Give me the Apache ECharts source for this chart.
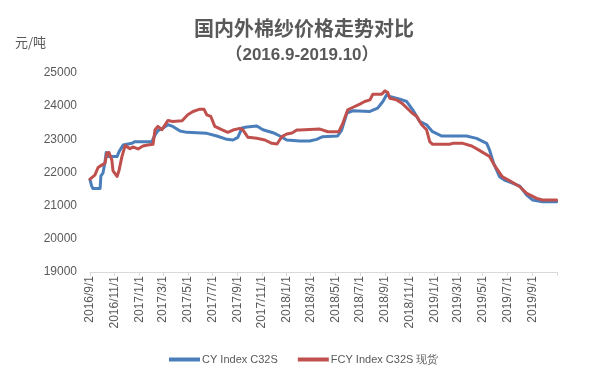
<!DOCTYPE html>
<html>
<head>
<meta charset="utf-8">
<script src="https://cdn.jsdelivr.net/npm/echarts@6/dist/echarts.min.js"></script>
<style>
  html, body { margin: 0; padding: 0; background: #fff; }
  #chart { width: 589px; height: 376px; }
</style>
</head>
<body>
<div id="chart"></div>
<script>
// CY Index C32S
var cyDates = [
  '2016/9/1', '2016/9/5', '2016/9/8', '2016/9/26', '2016/9/28', '2016/10/3', '2016/10/8', '2016/10/11',
  '2016/10/16', '2016/11/7', '2016/11/12', '2016/11/22', '2016/12/14', '2016/12/21', '2017/2/1', '2017/2/9',
  '2017/2/16', '2017/3/1', '2017/3/13', '2017/3/25', '2017/4/12', '2017/4/29', '2017/6/17', '2017/7/12',
  '2017/8/6', '2017/8/21', '2017/9/2', '2017/9/12', '2017/9/24', '2017/10/19', '2017/11/3', '2017/11/28',
  '2017/12/15', '2018/1/1', '2018/2/2', '2018/2/27', '2018/3/16', '2018/3/31', '2018/5/7', '2018/5/17',
  '2018/5/30', '2018/6/13', '2018/7/26', '2018/8/14', '2018/8/27', '2018/9/6', '2018/9/13', '2018/10/8',
  '2018/10/25', '2018/11/9', '2018/11/26', '2018/12/13', '2018/12/28', '2019/1/20', '2019/3/22', '2019/4/16',
  '2019/5/11', '2019/5/18', '2019/5/28', '2019/6/12', '2019/6/24', '2019/7/12', '2019/8/1', '2019/8/18',
  '2019/9/2', '2019/9/26', '2019/10/31'
];
var cyValues = [
  21780, 21600, 21520, 21520, 21900, 21980, 22300, 22600,
  22480, 22480, 22630, 22830, 22880, 22930, 22930, 23130,
  23260, 23340, 23440, 23390, 23250, 23210, 23180, 23100,
  23000, 22980, 23060, 23340, 23370, 23400, 23290, 23200,
  23100, 22980, 22950, 22950, 23000, 23080, 23100, 23280,
  23790, 23860, 23840, 23940, 24140, 24360, 24290, 24210,
  24140, 23890, 23540, 23440, 23230, 23100, 23100, 23030,
  22880, 22680, 22280, 21870, 21770, 21690, 21590, 21320,
  21170, 21120, 21120
];

// FCY Index C32S 现货
var fcyDates = [
  '2016/9/1', '2016/9/13', '2016/9/21', '2016/10/1', '2016/10/8', '2016/10/13', '2016/10/18', '2016/10/25',
  '2016/10/28', '2016/11/7', '2016/11/12', '2016/11/19', '2016/11/27', '2016/12/9', '2016/12/16', '2016/12/29',
  '2017/1/10', '2017/1/22', '2017/2/4', '2017/2/9', '2017/2/16', '2017/2/26', '2017/3/13', '2017/3/25',
  '2017/4/17', '2017/5/1', '2017/5/14', '2017/5/31', '2017/6/10', '2017/6/17', '2017/6/27', '2017/7/7',
  '2017/7/24', '2017/8/8', '2017/8/21', '2017/9/7', '2017/9/14', '2017/9/27', '2017/10/19', '2017/11/8',
  '2017/11/25', '2017/12/8', '2017/12/20', '2018/1/1', '2018/1/14', '2018/1/26', '2018/2/2', '2018/3/24',
  '2018/4/13', '2018/5/10', '2018/5/20', '2018/6/1', '2018/6/13', '2018/7/1', '2018/7/13', '2018/7/26',
  '2018/8/2', '2018/8/24', '2018/9/1', '2018/9/8', '2018/9/13', '2018/9/30', '2018/10/13', '2018/11/6',
  '2018/11/19', '2018/12/1', '2018/12/13', '2018/12/21', '2018/12/28', '2019/2/8', '2019/2/16', '2019/3/13',
  '2019/4/4', '2019/4/24', '2019/5/18', '2019/5/31', '2019/6/19', '2019/7/7', '2019/8/1', '2019/8/18',
  '2019/9/12', '2019/9/26', '2019/10/31'
];
var fcyValues = [
  21800, 21920, 22150, 22230, 22280, 22590, 22600, 22380,
  22050, 21880, 22070, 22480, 22810, 22720, 22770, 22710,
  22800, 22830, 22850, 23290, 23390, 23290, 23570, 23540,
  23560, 23740, 23840, 23910, 23910, 23740, 23690, 23390,
  23290, 23210, 23280, 23330, 23290, 23060, 23030, 22980,
  22880, 22860, 23080, 23160, 23190, 23280, 23280, 23310,
  23230, 23230, 23490, 23890, 23960, 24060, 24140, 24190,
  24360, 24360, 24460, 24410, 24240, 24190, 24090, 23810,
  23690, 23440, 23290, 22930, 22850, 22850, 22880, 22880,
  22800, 22660, 22480, 22200, 21870, 21750, 21570, 21370,
  21220, 21170, 21170
];

var seriesNames = ['CY Index C32S', 'FCY Index C32S 现货'];
var yTicks = [19000, 20000, 21000, 22000, 23000, 24000, 25000];

// 每日一个类目：2016/9/1 ~ 2019/11/1
var days = [];
var t = Date.UTC(2016, 8, 1), tEnd = Date.UTC(2019, 10, 1);
while (t <= tEnd) {
  var d = new Date(t);
  days.push(d.getUTCFullYear() + '/' + (d.getUTCMonth() + 1) + '/' + d.getUTCDate());
  t += 86400000;
}
var dayIndex = {};
days.forEach(function (s, i) { dayIndex[s] = i; });

function pairs(dates, values) {
  return dates.map(function (s, i) { return [dayIndex[s], values[i]]; });
}

// 单月份的1号
function isTick(value) {
  var p = value.split('/');
  return p[2] === '1' && (+p[1]) % 2 === 1;
}

var grey = '#595959';
var myChart = echarts.init(document.getElementById('chart'));
var option = {
  animation: false,
  textStyle: { fontFamily: 'Liberation Sans, Arial, sans-serif' },
  graphic: [
    { type: 'text', style: { text: '国内外棉纱价格走势对比', x: 304, y: 28, textAlign: 'center', textVerticalAlign: 'middle',
      fill: grey, font: 'bold 20px "Noto Sans CJK SC"' } },
    { type: 'text', style: { text: '（2016.9-2019.10）', x: 302, y: 55, textAlign: 'center', textVerticalAlign: 'middle',
      fill: grey, font: 'bold 17px "Liberation Sans", "Noto Sans CJK SC"' } },
    { type: 'text', style: { text: '元/吨', x: 15, y: 42, textAlign: 'left', textVerticalAlign: 'middle',
      fill: grey, font: '13px "Noto Sans CJK SC"' } }
  ],
  legend: {
    left: 164,
    top: 349,
    itemGap: 20,
    itemWidth: 31,
    itemHeight: 4,
    icon: 'rect',
    textStyle: { color: grey, fontSize: 11, padding: [0, 0, 0, -3] },
    data: seriesNames
  },
  grid: { left: 90, right: 32, top: 73, bottom: 104, containLabel: false },
  xAxis: {
    type: 'category',
    data: days,
    boundaryGap: false,
    axisLine: { lineStyle: { color: '#d9d9d9', width: 1 } },
    axisTick: {
      interval: function (i, v) { return isTick(v); },
      length: 4,
      lineStyle: { color: '#d9d9d9' }
    },
    axisLabel: {
      interval: function (i, v) { return isTick(v) && i < days.length - 1; },
      rotate: 90,
      margin: 4,
      color: grey,
      fontSize: 12
    },
    splitLine: { show: false }
  },
  yAxis: {
    type: 'value',
    min: yTicks[0],
    max: yTicks[yTicks.length - 1],
    interval: 1000,
    axisLine: { show: false },
    axisTick: { show: false },
    splitLine: { show: false },
    axisLabel: { color: grey, fontSize: 12, margin: 13, formatter: function (v) { return String(v); } }
  },
  series: [
    {
      name: seriesNames[0],
      type: 'line',
      showSymbol: false,
      symbol: 'none',
      color: '#4A7EBB',
      lineStyle: { width: 3, cap: 'round', join: 'round' },
      data: pairs(cyDates, cyValues)
    },
    {
      name: seriesNames[1],
      type: 'line',
      showSymbol: false,
      symbol: 'none',
      color: '#C0504D',
      lineStyle: { width: 3, cap: 'round', join: 'round' },
      data: pairs(fcyDates, fcyValues)
    }
  ]
};
myChart.setOption(option);
</script>
</body>
</html>
